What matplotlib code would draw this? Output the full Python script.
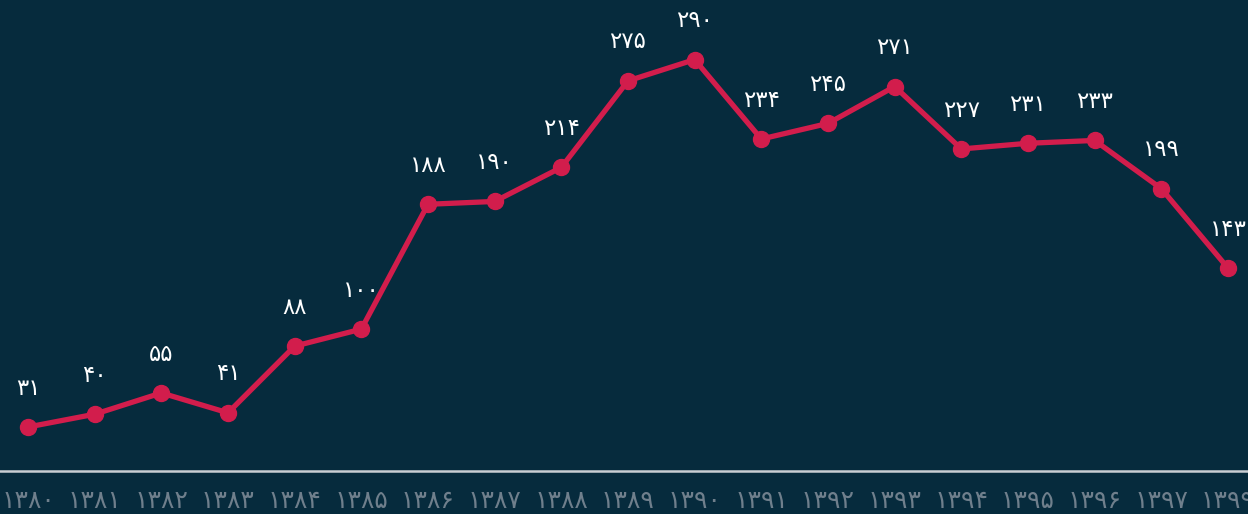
import matplotlib
matplotlib.use("Agg")
import matplotlib.pyplot as plt

years = ["۱۳۸۰", "۱۳۸۱", "۱۳۸۲", "۱۳۸۳", "۱۳۸۴", "۱۳۸۵", "۱۳۸۶", "۱۳۸۷", "۱۳۸۸", "۱۳۸۹",
         "۱۳۹۰", "۱۳۹۱", "۱۳۹۲", "۱۳۹۳", "۱۳۹۴", "۱۳۹۵", "۱۳۹۶", "۱۳۹۷", "۱۳۹۹"]
values = [31, 40, 55, 41, 88, 100, 188, 190, 214, 275, 290, 234, 245, 271, 227, 231, 233, 199, 143]

bg = "#062b3d"
red = "#d21d4c"

fa_digits = str.maketrans("0123456789", "۰۱۲۳۴۵۶۷۸۹")

fig = plt.figure(figsize=(12.48, 5.14), dpi=100, facecolor=bg)
ax = fig.add_axes([0, 0.0837, 1, 0.9163], facecolor=bg)

x = list(range(len(values)))
ax.plot(x, values, color=red, lw=3.8, marker="o", ms=11.5, zorder=3)

for xi, v in zip(x, values):
    ax.annotate(str(v).translate(fa_digits), (xi, v), xytext=(0, 28), textcoords="offset points",
                ha="center", va="center", color="white", fontsize=16.5)

ax.set_xlim(-0.42, 18.3)
ax.set_ylim(0, 332)
ax.set_xticks(x)
ax.set_xticklabels(years, fontsize=18, color="#6f7f8c")
ax.tick_params(axis="x", length=0, pad=13)
ax.set_yticks([])
for s in ["top", "right", "left"]:
    ax.spines[s].set_visible(False)
ax.spines["bottom"].set_color("#c9ced3")
ax.spines["bottom"].set_linewidth(1.8)

fig.savefig("out.png", dpi=100, facecolor=bg)
